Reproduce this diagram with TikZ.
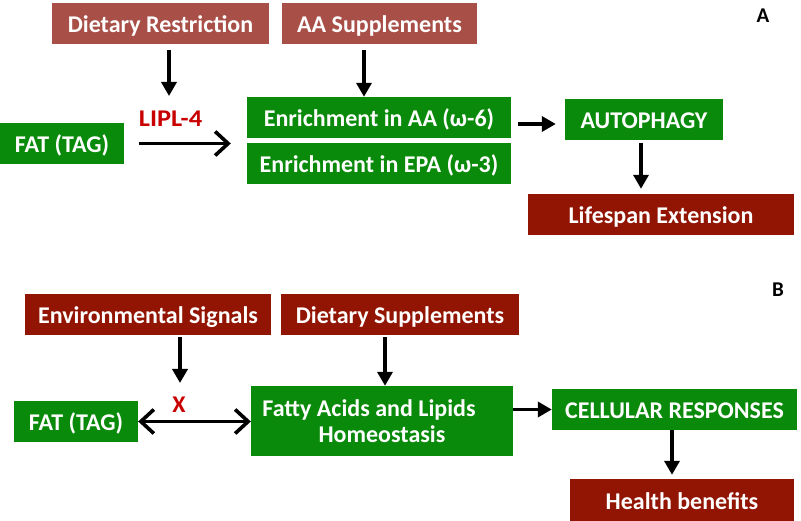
\documentclass[tikz,border=0pt]{standalone}
\usepackage{fontspec}
\setmainfont{Carlito}
\usetikzlibrary{arrows.meta}

\definecolor{leafgreen}{HTML}{0A8A0A}
\definecolor{paleRed}{HTML}{A84F48}
\definecolor{deepRed}{HTML}{921503}
\definecolor{labelRed}{HTML}{C80000}

\begin{document}
\begin{tikzpicture}[x = 1pt, y = -1pt,
  box/.style = {inner sep = 0pt, text = white, font = \fontsize{24}{26}\selectfont\bfseries, align = center, text height = 18pt, text depth = 0pt},
  greenbox/.style = {box, fill = leafgreen},
  palebox/.style = {box, fill = paleRed},
  redbox/.style = {box, fill = deepRed},
  arr/.style = {line width = 3.6pt, -{Triangle[length = 14pt, width = 15pt]}},
  chev/.style = {line width = 3.6pt, -{Straight Barb[length = 13pt, width = 24pt]}},
  tag/.style = {font = \fontsize{24}{26}\selectfont\bfseries}]

\useasboundingbox (0, 0) rectangle (801, 521);

% panel A
\node (dr) at (160.5, 23.5) [palebox, minimum width = 217pt, minimum height = 41pt] {Dietary Restriction};
\node (aas) at (379.5, 23.5) [palebox, minimum width = 195pt, minimum height = 41pt] {AA Supplements};
\node (fatA) at (62, 143.5) [greenbox, minimum width = 124pt, minimum height = 41pt] {FAT (TAG)};
\node (enraa) at (379, 117.5) [greenbox, minimum width = 264pt, minimum height = 41pt] {Enrichment in AA (ω-6)};
\node (enrepa) at (379, 163.5) [greenbox, minimum width = 264pt, minimum height = 41pt] {Enrichment in EPA (ω-3)};
\node (auto) at (644, 119.5) [greenbox, minimum width = 158pt, minimum height = 41pt] {AUTOPHAGY};
\node (life) at (661, 214.5) [redbox, minimum width = 266pt, minimum height = 41pt] {Lifespan Extension};
\node (lipl) at (170.5, 119) [tag, text = labelRed, xscale = 1.1] {LIPL-4};
\node (panA) at (763, 16) [tag, font = \fontsize{21}{24}\selectfont\bfseries] {A};
\coordinate (drend) at (169, 96);

\draw[arr, shorten < = 6pt] (dr.south -| drend) -- (drend);
\draw[arr, shorten < = 6pt] ([xshift = -15.5pt]aas.south) -- ([xshift = -15.5pt]aas.south |- enraa.north);
\draw[chev, shorten < = 15pt, shorten > = 16pt] (fatA.east) -- (fatA.east -| enraa.west);
\draw[arr, shorten < = 7pt, shorten > = 9pt] ([yshift = -6.5pt]enraa.east) -- ([yshift = -6.5pt]enraa.east -| auto.west);
\draw[arr, shorten < = 3pt, shorten > = 5pt] ([xshift = -3pt]auto.south) -- ([xshift = -3pt]auto.south |- life.north);

% panel B
\node (env) at (148, 314.5) [redbox, minimum width = 246pt, minimum height = 41pt] {Environmental Signals};
\node (dsup) at (400, 314.5) [redbox, minimum width = 238pt, minimum height = 41pt] {Dietary Supplements};
\node (fatB) at (76, 421.5) [greenbox, minimum width = 124pt, minimum height = 41pt] {FAT (TAG)};
\node (fla) at (382, 421) [greenbox, minimum width = 262pt, minimum height = 70pt, text height = , text depth = ] {Fatty Acids and Lipids\hspace*{26pt}\\Homeostasis};
\node (cell) at (674.5, 409.5) [greenbox, minimum width = 245pt, minimum height = 41pt] {CELLULAR RESPONSES};
\node (health) at (682, 500) [redbox, minimum width = 224pt, minimum height = 42pt] {Health benefits};
\node (cross) at (179, 405) [tag, text = labelRed] {X};
\node (panB) at (778, 290) [tag, font = \fontsize{21}{24}\selectfont\bfseries] {B};
\coordinate (envend) at (180, 383);

\draw[arr, shorten < = 2pt] (env.south -| envend) -- (envend);
\draw[arr, shorten < = 2pt] ([xshift = -15pt]dsup.south) -- ([xshift = -15pt]dsup.south |- fla.north);
\draw[chev, {Straight Barb[length = 13pt, width = 24pt]}-{Straight Barb[length = 13pt, width = 24pt]}] (fatB.east) -- (fatB.east -| fla.west);
\draw[arr] (fla.east |- cell.west) -- (cell.west);
\draw[arr, shorten > = 4pt] ([xshift = -2.5pt]cell.south) -- ([xshift = -2.5pt]cell.south |- health.north);

\end{tikzpicture}
\end{document}
